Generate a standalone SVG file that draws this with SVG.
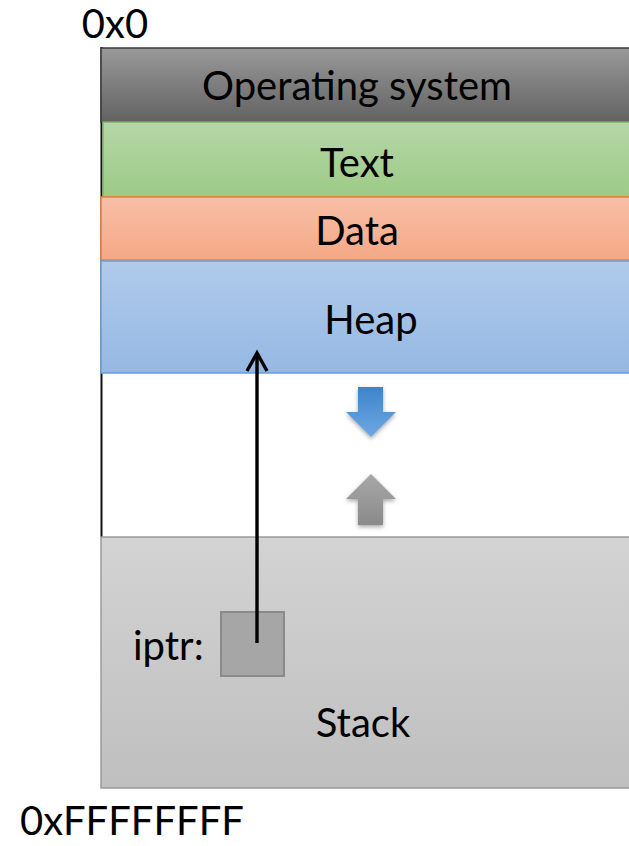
<svg xmlns="http://www.w3.org/2000/svg" width="629" height="846" viewBox="0 0 629 846">
  <style>
    .lbl { font-family: Lato, "Open Sans", "Liberation Sans", sans-serif; font-size: 40px; fill: #000; }
    .mid { text-anchor: middle; }
    .ptr { fill: none; stroke: #000; stroke-width: 3.4; }
  </style>
  <defs>
    <linearGradient id="gOs" x1="0" y1="0" x2="0" y2="1">
      <stop offset="0" stop-color="#999999"/>
      <stop offset="1" stop-color="#626262"/>
    </linearGradient>
    <linearGradient id="gText" x1="0" y1="0" x2="0" y2="1">
      <stop offset="0" stop-color="#b6d6a8"/>
      <stop offset="1" stop-color="#9ccb86"/>
    </linearGradient>
    <linearGradient id="gData" x1="0" y1="0" x2="0" y2="1">
      <stop offset="0" stop-color="#f8bfa6"/>
      <stop offset="1" stop-color="#f5a886"/>
    </linearGradient>
    <linearGradient id="gHeap" x1="0" y1="0" x2="0" y2="1">
      <stop offset="0" stop-color="#b0cbeb"/>
      <stop offset="1" stop-color="#95b8e3"/>
    </linearGradient>
    <linearGradient id="gStack" x1="0" y1="0" x2="0" y2="1">
      <stop offset="0" stop-color="#d3d3d3"/>
      <stop offset="1" stop-color="#bfbfbf"/>
    </linearGradient>
    <linearGradient id="gDown" x1="0" y1="0" x2="0" y2="1">
      <stop offset="0" stop-color="#3d85cc"/>
      <stop offset="1" stop-color="#6ea8e2"/>
    </linearGradient>
    <linearGradient id="gUp" x1="0" y1="0" x2="0" y2="1">
      <stop offset="0" stop-color="#a8a8a8"/>
      <stop offset="1" stop-color="#8a8a8a"/>
    </linearGradient>
    <filter id="shadow" x="-30%" y="-30%" width="160%" height="160%">
      <feDropShadow dx="0" dy="2" stdDeviation="2" flood-color="#000" flood-opacity="0.35"/>
    </filter>
  </defs>

  <!-- address labels -->
  <text class="lbl mid" x="115" y="38">0x0</text>
  <text class="lbl" x="20" y="835">0xFFFFFFFF</text>

  <!-- left edge of the address space -->
  <line x1="101.5" y1="47" x2="101.5" y2="537" stroke="#111" stroke-width="2"/>

  <g id="os">
    <rect x="101" y="48" width="560" height="74" fill="url(#gOs)" stroke="#3a3a3a" stroke-width="1.5"/>
    <text class="lbl mid" x="357" y="100">Operating system</text>
  </g>
  <g id="text-seg">
    <rect x="103" y="122" width="560" height="75" fill="url(#gText)" stroke="#7fb762" stroke-width="1.5"/>
    <text class="lbl mid" x="357" y="177">Text</text>
  </g>
  <g id="data-seg">
    <rect x="101" y="197" width="560" height="63" fill="url(#gData)" stroke="#ed7d31" stroke-width="1.5"/>
    <text class="lbl mid" x="357" y="245">Data</text>
  </g>
  <g id="heap">
    <rect x="101" y="261" width="560" height="112" fill="url(#gHeap)" stroke="#6a9fd8" stroke-width="1.5"/>
    <text class="lbl mid" x="371" y="334">Heap</text>
  </g>

  <!-- growth direction arrows -->
  <g id="heap-grows">
    <path d="M358,387 H383 V412 H396 L371,437 L346,412 H358 Z" fill="url(#gDown)" filter="url(#shadow)"/>
  </g>
  <g id="stack-grows">
    <path d="M358,525 H383 V499 H396 L371,474 L346,499 H358 Z" fill="url(#gUp)" filter="url(#shadow)"/>
  </g>

  <g id="stack">
    <rect x="101" y="537" width="560" height="251" fill="url(#gStack)" stroke="#9a9a9a" stroke-width="1.5"/>
    <text class="lbl mid" x="363" y="737">Stack</text>
  </g>
  <g id="iptr">
    <text class="lbl" x="133" y="660">iptr:</text>
    <rect x="221" y="612" width="63" height="64" fill="#a6a6a6" stroke="#8a8a8a" stroke-width="2"/>
  </g>

  <g id="connectors">
    <line class="ptr" x1="257" y1="643" x2="257" y2="353"/>
    <path class="ptr" d="M247,371 L257,353 L267,371" stroke-linejoin="miter"/>
  </g>
</svg>
